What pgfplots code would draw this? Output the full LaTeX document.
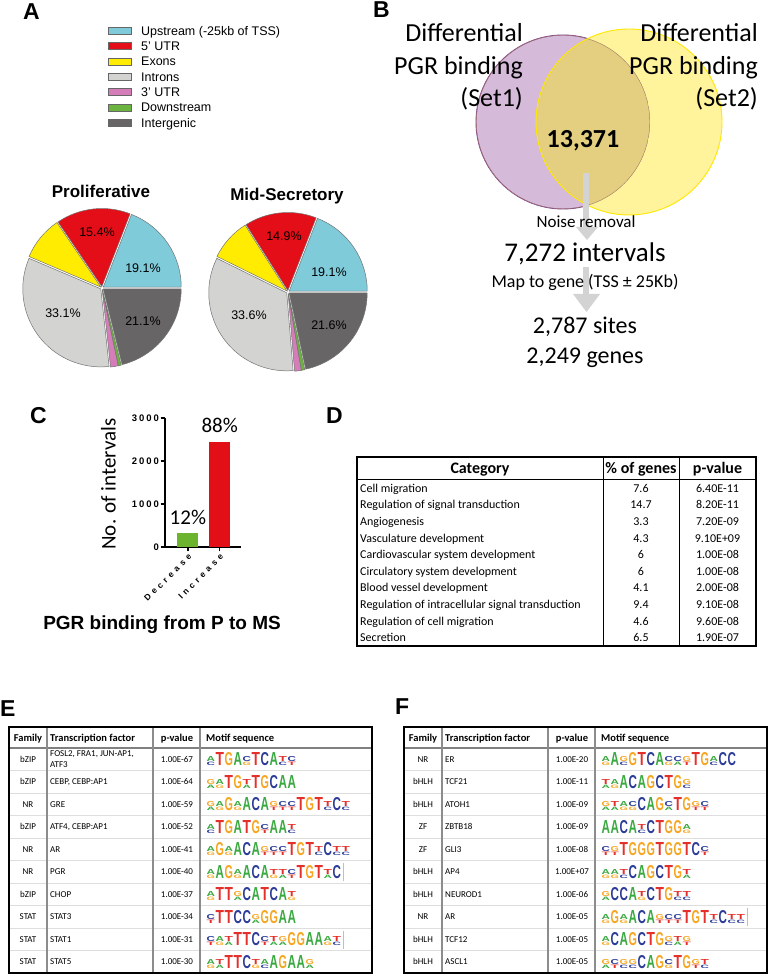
\documentclass[border=0pt]{standalone}
\usepackage{fontspec}
\setmainfont{Carlito}
\newfontfamily\arial{Liberation Sans}
\newfontfamily\arialsp{Liberation Sans}[LetterSpace=42]
\newfontfamily\arialtk{Liberation Sans}[LetterSpace=20]
\newfontfamily\lgf{Liberation Sans}
\usepackage{graphicx}
\usepackage{pgfplots}
\pgfplotsset{compat=1.18}

\definecolor{cUp}{HTML}{7FCBDA}
\definecolor{cUTRfive}{HTML}{E30E17}
\definecolor{cExon}{HTML}{FFEC00}
\definecolor{cIntron}{HTML}{D3D3D1}
\definecolor{cUTRthree}{HTML}{D57DB9}
\definecolor{cDown}{HTML}{6BB43F}
\definecolor{cInter}{HTML}{676565}
\definecolor{vP}{HTML}{D5BAD9}
\definecolor{vPd}{HTML}{7A3793}
\definecolor{vPb}{HTML}{A8826C}
\definecolor{vY}{HTML}{FFF39C}
\definecolor{vYd}{HTML}{FFE800}
\definecolor{vO}{HTML}{E3CF7F}
\definecolor{arr}{HTML}{D3D3D3}
\definecolor{barG}{HTML}{6CB42E}
\definecolor{barR}{HTML}{E30F17}
\definecolor{mA}{HTML}{3BA941}
\definecolor{mC}{HTML}{2B3B97}
\definecolor{mG}{HTML}{F5A623}
\definecolor{mT}{HTML}{E3302B}

\newcommand\fs[1]{\fontsize{#1}{#1}\selectfont}

% pie slice: cx, cy (pixels), radius, percent, colour
\newcommand\pieslice[5]{%
  \pgfmathsetmacro\sA{\pieacc}%
  \pgfmathsetmacro\sB{\pieacc+3.6*#4}%
  \pgfmathsetmacro\ex{#1+1.5*cos((\sA+\sB)/2)}%
  \pgfmathsetmacro\ey{#2-1.5*sin((\sA+\sB)/2)}%
  \edef\tmp{\noexpand\filldraw[fill=#5,draw=black!55,line width=0.5pt]
    (axis cs:\ex,\ey) -- ++(\sA:#3pt) arc[start angle=\sA,end angle=\sB,radius=#3pt] -- cycle;}%
  \tmp
  \global\let\pieacc\sB}

% motif logo letters: big, and two stacked small ones
\newcommand\K[1]{\makebox[9pt]{\textcolor{m#1}{\resizebox{8.4pt}{13pt}{\lgf\bfseries #1}}}}
\newcommand\Q[2]{\makebox[9pt]{\vbox{\offinterlineskip
  \hbox{\textcolor{m#1}{\resizebox{8.4pt}{5pt}{\lgf\bfseries #1}}}\vskip0.6pt
  \hbox{\textcolor{m#2}{\resizebox{8.4pt}{3.4pt}{\lgf\bfseries #2}}}}}}
\newcommand\vb{\hspace{2pt}\textcolor{black!25}{\rule[-3pt]{0.7pt}{18pt}}}

% rows of tables E and F: left, row, family, factor, p-value, motif
\newcommand\trow[6]{%
  \pgfmathsetmacro\rc{748+(#2-0.5)*22.5}%
  \node[font=\fs{9}, anchor=base, inner sep=0pt] at (#1+19,\rc+3) {#3};
  \node[font=\fs{9}, anchor=base west, inner sep=0pt] at (#1+41,\rc+3) {#4};
  \node[font=\fs{9}, anchor=base, inner sep=0pt] at (#1+168,\rc+3) {#5};
  \node[anchor=base west, inner sep=0pt] at (#1+197,\rc+6.5) {#6};}
\newcommand\tgrid[1]{%
  \foreach \i in {1,...,9} {\draw[black!13, line width=0.7pt] (#1,{748+\i*22.5}) -- (#1+363,{748+\i*22.5});}
  \draw[black!50, line width=1.6pt] (#1,748) -- (#1+363,748);
  \foreach \cc in {38,144,191} {\draw[black!45, line width=1.3pt] (#1+\cc,727) -- (#1+\cc,973);}
  \draw[black, line width=2.2pt] (#1,727) rectangle (#1+363,973);
  \node[font=\bfseries\fs{10.5}, anchor=base, inner sep=0pt] at (#1+19,741.5) {Family};
  \node[font=\bfseries\fs{10.5}, anchor=base west, inner sep=0pt] at (#1+41,741.5) {Transcription factor};
  \node[font=\bfseries\fs{10.5}, anchor=base, inner sep=0pt] at (#1+168,741.5) {p-value};
  \node[font=\bfseries\fs{10.5}, anchor=base west, inner sep=0pt] at (#1+197,741.5) {Motif sequence};}

% rows of table D
\newcommand\drow[4]{%
  \pgfmathsetmacro\rc{480+(#1-0.5)*16.6}%
  \node[font=\fs{12}, anchor=base west, inner sep=0pt] at (360,\rc+4) {#2};
  \node[font=\fs{12}, anchor=base, inner sep=0pt] at (641,\rc+4) {#3};
  \node[font=\fs{12}, anchor=base, inner sep=0pt] at (717.5,\rc+4) {#4};}

\begin{document}
\begin{tikzpicture}
% ---- A: pies, in a page-sized axis with pixel units
\begin{axis}[at={(0pt,0pt)}, anchor=south west, x=1pt, y=1pt,
  xmin=0, xmax=770, ymin=0, ymax=976, y dir=reverse, hide axis, clip=false]
  \gdef\pieacc{0}
  \pieslice{102}{288}{78}{19.1}{cUp}
  \pieslice{102}{288}{78}{15.4}{cUTRfive}
  \pieslice{102}{288}{78}{9.1}{cExon}
  \pieslice{102}{288}{78}{33.1}{cIntron}
  \pieslice{102}{288}{78}{1.6}{cUTRthree}
  \pieslice{102}{288}{78}{0.6}{cDown}
  \pieslice{102}{288}{78}{21.1}{cInter}
  \gdef\pieacc{0}
  \pieslice{288}{292}{78}{19.1}{cUp}
  \pieslice{288}{292}{78}{14.9}{cUTRfive}
  \pieslice{288}{292}{78}{8.7}{cExon}
  \pieslice{288}{292}{78}{33.6}{cIntron}
  \pieslice{288}{292}{78}{1.4}{cUTRthree}
  \pieslice{288}{292}{78}{0.7}{cDown}
  \pieslice{288}{292}{78}{21.6}{cInter}
\end{axis}

% ---- C: bar chart
\begin{axis}[at={(165pt,429pt)}, anchor=south west, scale only axis,
  width=76pt, height=129pt, xmin=-0.72, xmax=1.67, ymin=0, ymax=3000,
  axis x line*=bottom, axis y line*=left,
  axis line style={line width=1.3pt, -},
  tick align=outside, major tick length=4.5pt,
  tick style={line width=1.3pt, black},
  ytick={0,1000,2000,3000}, xtick={0,1}, xticklabels={Decrease,Increase},
  yticklabel style={font=\arialtk\bfseries\fs{9.5}, inner sep=1.5pt},
  xticklabel style={font=\arialsp\bfseries\fs{8.5}, rotate=45, anchor=north east, inner sep=1pt},
  /pgf/number format/1000 sep={}, /pgf/number format/assume math mode=true,
  clip=false]
  \addplot[ybar, bar width=21pt, bar shift=0pt, fill=barG, draw=none] coordinates {(0,326)};
  \addplot[ybar, bar width=21pt, bar shift=0pt, fill=barR, draw=none] coordinates {(1,2445)};
  \node[font=\fs{21}, anchor=base, yshift=8pt] at (axis cs:0,326) {12\%};
  \node[font=\fs{21}, anchor=base, yshift=9pt] at (axis cs:1,2445) {88\%};
\end{axis}

\begin{scope}[shift={(0pt,976pt)}, x=1pt, y=-1pt]
% panel letters
\foreach \l/\px/\py in {A/23/3, B/373/1, C/30/407, D/326/407, E/0/700, F/395/698}
  \node[font=\arial\bfseries\fs{23}, anchor=north west, inner sep=0pt] at (\px,\py) {\l};

% legend of A
\foreach \c/\t [count=\i] in {cUp/Upstream (-25kb of TSS), cUTRfive/5’ UTR, cExon/Exons,
    cIntron/Introns, cUTRthree/3’ UTR, cDown/Downstream, cInter/Intergenic} {
  \pgfmathsetmacro\ly{31+(\i-1)*15.3}
  \filldraw[fill=\c, draw=black!60, line width=0.6pt] (108,\ly-3.5) rectangle (131,\ly+3.5);
  \node[font=\arial\fs{12.5}, anchor=base west, inner sep=0pt] at (141,\ly+4.4) {\t};
}
\node[font=\arial\bfseries\fs{17}, anchor=base] at (101,198) {Proliferative};
\node[font=\arial\bfseries\fs{17}, anchor=base] at (287,201) {Mid-Secretory};
\foreach \px/\py/\t in {97/232/15.4, 143/268/19.1, 63/313/33.1, 143/321/21.1,
    284/236/14.9, 329/272/19.1, 249/315/33.6, 329/325/21.6}
  \node[font=\arial\fs{12.5}] at (\px,\py) {\t\%};

% ---- B: Venn and flow
\filldraw[fill=vP, draw=vPd, line width=0.9pt] (563,122) circle[radius=87pt];
\fill[vY] (629,122) circle[radius=93pt];
\begin{scope}
  \clip (563,122) circle[radius=87pt];
  \fill[vO] (629,122) circle[radius=93pt];
  \draw[vPb, line width=0.9pt] (563,122) circle[radius=87pt];
\end{scope}
\draw[vYd, line width=0.9pt] (629,122) circle[radius=93pt];
\foreach \t/\py in {Differential/42, PGR binding/74.5, (Set1)/107}
  \node[font=\fs{26}, anchor=base east, inner sep=0pt] at (523,\py) {\t};
\foreach \t/\py in {Differential/42, PGR binding/74.5, (Set2)/107}
  \node[font=\fs{26}, anchor=base east, inner sep=0pt] at (758,\py) {\t};
\node[font=\bfseries\fs{26}, anchor=base] at (583,148) {13,371};
\fill[arr] (583,173) rectangle (589,228);
\fill[arr] (576,227) -- (598,227) -- (587,240) -- cycle;
\fill[arr] (583,267) rectangle (589,295);
\fill[arr] (573,294) -- (600,294) -- (586.5,312) -- cycle;
\node[font=\fs{17}, anchor=base] at (586,228) {Noise removal};
\node[font=\fs{27}, anchor=base] at (585,262) {7,272 intervals};
\node[font=\fs{18}, anchor=base] at (585,288) {Map to gene (TSS ± 25Kb)};
\node[font=\fs{24}, anchor=base] at (585,334) {2,787 sites};
\node[font=\fs{24}, anchor=base] at (585,364) {2,249 genes};

% ---- C: labels
\node[font=\fs{21}, rotate=90] at (108.5,484) {No. of intervals};
\node[font=\arial\bfseries\fs{19}, anchor=base] at (162,630) {PGR binding from P to MS};

% ---- D: GO table
\draw[black, line width=1.3pt] (357,457) rectangle (756,646);
\draw[black, line width=1pt] (357,480) -- (756,480);
\draw[black, line width=0.8pt] (603,457) -- (603,646);
\draw[black, line width=0.8pt] (679,457) -- (679,646);
\node[font=\bfseries\fs{16}, anchor=base] at (480,474) {Category};
\node[font=\bfseries\fs{16}, anchor=base] at (641,474) {\% of genes};
\node[font=\bfseries\fs{16}, anchor=base] at (717.5,474) {p-value};
\drow{1}{Cell migration}{7.6}{6.40E-11}
\drow{2}{Regulation of signal transduction}{14.7}{8.20E-11}
\drow{3}{Angiogenesis}{3.3}{7.20E-09}
\drow{4}{Vasculature development}{4.3}{9.10E+09}
\drow{5}{Cardiovascular system development}{6}{1.00E-08}
\drow{6}{Circulatory system development}{6}{1.00E-08}
\drow{7}{Blood vessel development}{4.1}{2.00E-08}
\drow{8}{Regulation of intracellular signal transduction}{9.4}{9.10E-08}
\drow{9}{Regulation of cell migration}{4.6}{9.60E-08}
\drow{10}{Secretion}{6.5}{1.90E-07}

% ---- E: motif table
\tgrid{9}
\trow{9}{1}{bZIP}{}{1.00E-67}{\Q AC\K T\K G\K A\Q CG\K T\K C\K A\Q TC\Q CT}
\node[font=\fs{9}, anchor=base west, inner sep=0pt] at (50,757) {FOSL2, FRA1, JUN-AP1,};
\node[font=\fs{9}, anchor=base west, inner sep=0pt] at (50,768) {ATF3};
\trow{9}{2}{bZIP}{CEBP, CEBP:AP1}{1.00E-64}{\Q GA\Q AG\K T\K G\Q TA\K T\K G\K C\K A\K A}
\trow{9}{3}{NR}{GRE}{1.00E-59}{\Q GA\Q AG\K G\Q AG\K A\K C\K A\Q GT\Q CT\Q CT\K T\K G\K T\Q TC\K C\Q TC}
\trow{9}{4}{bZIP}{ATF4, CEBP:AP1}{1.00E-52}{\Q AC\K T\K G\K A\K T\K G\Q CT\K A\K A\Q TC}
\trow{9}{5}{NR}{AR}{1.00E-41}{\Q AG\K G\Q AG\K A\K C\K A\Q GT\Q CT\Q CT\K T\K G\K T\Q TC\K C\Q TC\Q TC}
\trow{9}{6}{NR}{PGR}{1.00E-40}{\Q AG\K A\K G\Q AG\K A\K C\K A\Q TG\Q TA\Q CT\K T\K G\K T\Q TA\K C\vb}
\trow{9}{7}{bZIP}{CHOP}{1.00E-37}{\Q AG\K T\K T\Q GA\K C\K A\K T\K C\K A\Q TG}
\trow{9}{8}{STAT}{STAT3}{1.00E-34}{\Q CT\K T\K T\K C\K C\Q GA\K G\K G\K A\K A}
\trow{9}{9}{STAT}{STAT1}{1.00E-31}{\Q CT\Q AG\Q TA\K T\K T\K C\Q CT\Q TA\Q GA\K G\K G\K A\K A\Q AG\Q TC\vb}
\trow{9}{10}{STAT}{STAT5}{1.00E-30}{\Q AG\Q TA\K T\K T\K C\Q TG\Q AC\K A\K G\K A\K A\Q GA}

% ---- F: motif table
\tgrid{404}
\trow{404}{1}{NR}{ER}{1.00E-20}{\Q AG\K A\Q GC\K G\K T\K C\K A\Q CG\Q CA\Q GT\K T\K G\Q AC\K C\K C}
\trow{404}{2}{bHLH}{TCF21}{1.00E-11}{\Q TA\Q AG\K A\K C\K A\K G\K C\K T\K G\Q GC}
\trow{404}{3}{bHLH}{ATOH1}{1.00E-09}{\Q GA\Q TA\Q AG\Q CG\K C\K A\K G\Q CA\K T\K G\Q GT\Q CT}
\trow{404}{4}{ZF}{ZBTB18}{1.00E-09}{\K A\K A\K C\K A\Q TC\K C\K T\K G\K G\Q AG}
\trow{404}{5}{ZF}{GLI3}{1.00E-08}{\Q CT\Q GT\K T\K G\K G\K G\K T\K G\K G\K T\K C\Q CT}
\trow{404}{6}{bHLH}{AP4}{1.00E+07}{\Q AG\Q AG\Q TC\K C\K A\K G\K C\K T\K G\Q TA}
\trow{404}{7}{bHLH}{NEUROD1}{1.00E-06}{\Q GA\K C\K C\K A\Q TG\K C\K T\K G\Q TC\Q TC}
\trow{404}{8}{NR}{AR}{1.00E-05}{\Q AG\K G\Q AG\K A\K C\K A\Q GT\Q CT\Q CT\K T\K G\K T\Q TC\K C\Q TC\Q TC\vb}
\trow{404}{9}{bHLH}{TCF12}{1.00E-05}{\Q AG\K C\K A\K G\K C\K T\K G\Q GC\Q TA\Q GT}
\trow{404}{10}{bHLH}{ASCL1}{1.00E-05}{\Q GA\Q CT\Q GC\Q GC\K C\K A\K G\Q CG\K T\K G\Q GT\Q TC}
\end{scope}
\pgfresetboundingbox
\path (0pt,0pt) rectangle (770pt,976pt);
\end{tikzpicture}
\end{document}
